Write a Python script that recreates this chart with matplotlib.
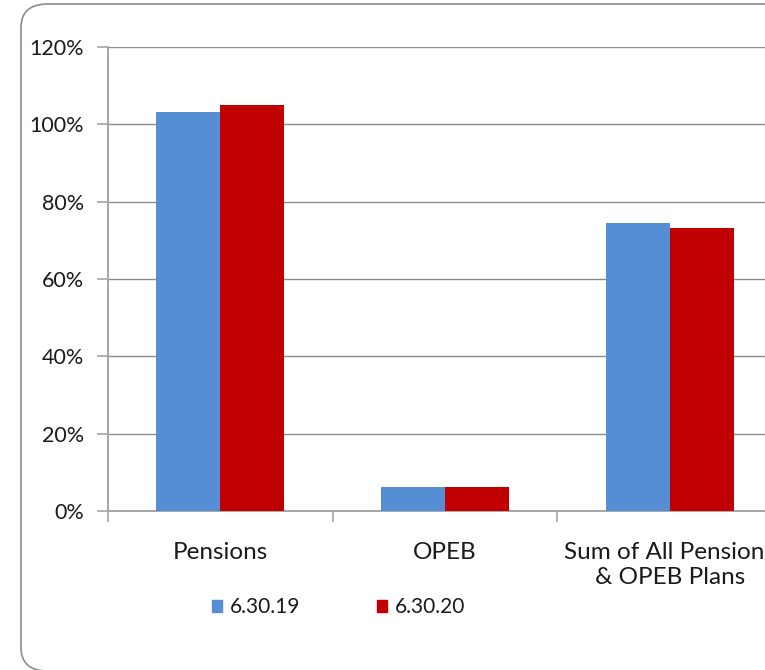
import matplotlib.pyplot as plt
from matplotlib.patches import FancyBboxPatch, Patch
import numpy as np

categories = ["Pensions", "OPEB", "Sum of All Pensions\n& OPEB Plans"]
series_names = ["6.30.19", "6.30.20"]
vals_2019 = [103.3, 6.2, 74.4]
vals_2020 = [104.9, 6.2, 73.1]
colors = ["#558ED5", "#C00000"]
yticks = [0, 20, 40, 60, 80, 100, 120]

plt.rcParams['font.family'] = ['Lato', 'DejaVu Sans']

fig = plt.figure(figsize=(7.65, 6.7), dpi=100)

# rounded chart frame, runs off the right edge like the original
frame = FancyBboxPatch((21 / 765, -1 / 670), 768 / 765, 667 / 670,
                       boxstyle="round,pad=0,rounding_size=0.035",
                       transform=fig.transFigure, facecolor="white",
                       edgecolor="#8c8c8c", linewidth=1.2, zorder=-5)
fig.patches.append(frame)

ax = fig.add_axes([108 / 765, 159 / 670, 674 / 765, 464 / 670])
ax.set_facecolor("none")
ax.set_zorder(2)

x = np.arange(len(categories))
w = 0.285
ax.bar(x - w / 2, vals_2019, w, color=colors[0], zorder=3)
ax.bar(x + w / 2, vals_2020, w, color=colors[1], zorder=3)

ax.set_xlim(-0.5, 2.5)
ax.set_ylim(0, 120)
ax.set_yticks(yticks)
ax.set_yticklabels([f"{t}%" for t in yticks])
ax.yaxis.grid(True, color="#8c8c8c", linewidth=1.0, zorder=0)

# category boundaries as tick marks, names as minor labels
ax.set_xticks([-0.5, 0.5, 1.5, 2.5])
ax.set_xticklabels([])
ax.set_xticks(x, minor=True)
ax.set_xticklabels(categories, minor=True, linespacing=1.25)
ax.tick_params(axis="x", which="major", length=8, color="#a6a6a6", width=1.2)
ax.tick_params(axis="x", which="minor", length=0, pad=22, labelsize=17.5,
               labelcolor="#1a1a1a")
ax.tick_params(axis="y", length=8, color="#a6a6a6", width=1.2, pad=9.5,
               labelsize=15.5, labelcolor="#1a1a1a")

for s in ["top", "right"]:
    ax.spines[s].set_visible(False)
for s in ["left", "bottom"]:
    ax.spines[s].set_color("#a6a6a6")
    ax.spines[s].set_linewidth(1.4)

handles = [Patch(color=c, label=n) for c, n in zip(colors, series_names)]
fig.legend(handles=handles, loc="center left",
           bbox_to_anchor=(193 / 765, 63 / 670), ncol=2, frameon=False,
           fontsize=15, handlelength=0.5, handleheight=0.5,
           handletextpad=0.35, columnspacing=3.7, labelcolor="#1a1a1a")

fig.savefig("out.png", dpi=100)
